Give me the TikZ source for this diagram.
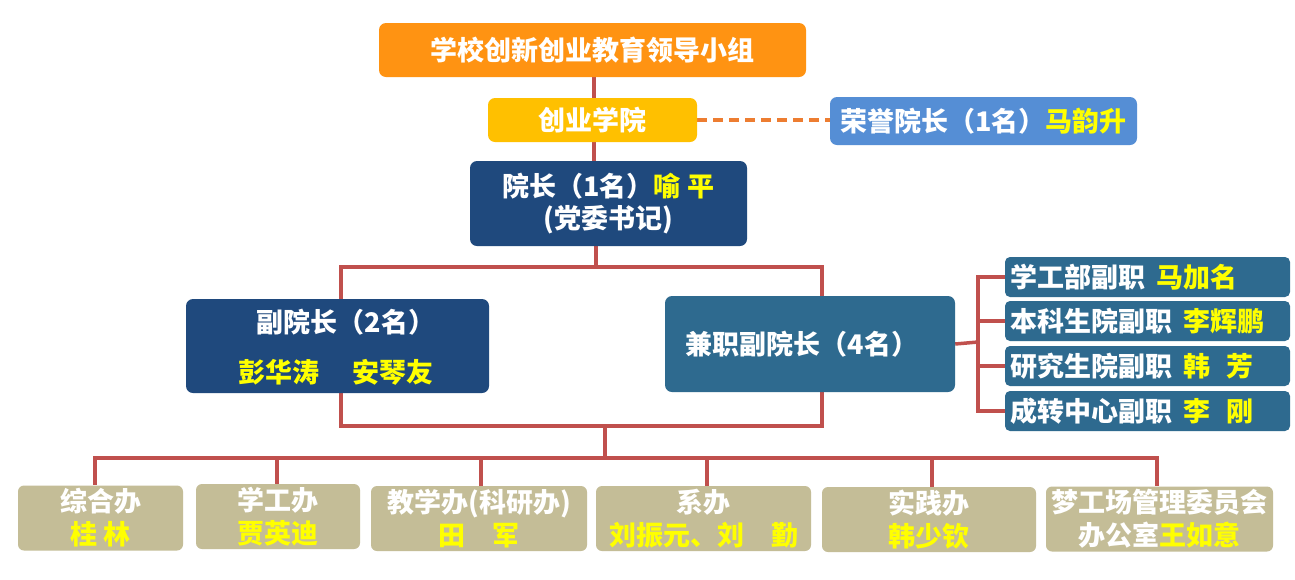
\documentclass[tikz,border=0pt]{standalone}
\usepackage{fontspec}
\setmainfont{Noto Sans CJK SC}
\usetikzlibrary{backgrounds}
\definecolor{cOrange}{HTML}{FF9312}
\definecolor{cGold}{HTML}{FFC000}
\definecolor{cLight}{HTML}{558ED5}
\definecolor{cDark}{HTML}{1F497D}
\definecolor{cSteel}{HTML}{2E6A8F}
\definecolor{cTan}{HTML}{C4BD97}
\definecolor{cLine}{HTML}{C0504D}
\definecolor{cDash}{HTML}{ED7D31}
\definecolor{cYel}{HTML}{FFFF00}
\newcommand{\yl}[1]{\textcolor{cYel}{#1}}
\tikzset{
  box/.style={rectangle, rounded corners=7pt, draw=none, text=white, inner sep=0pt,
    font=\fontsize{27}{32}\selectfont\bfseries, align=center},
  link/.style={draw=cLine, line width=3.5pt},
  dashlink/.style={draw=cDash, line width=3.5pt, dash pattern=on 10pt off 6pt},
}
\begin{document}
\begin{tikzpicture}[x=1pt,y=-1pt]
\useasboundingbox (0,0) rectangle (1295,579);
% top
\node[box, fill=cOrange, minimum width=427pt, minimum height=54pt] (top) at (592.5,50) {学校创新创业教育领导小组};
\node[box, fill=cGold, minimum width=209pt, minimum height=44pt] (college) at (592.5,120) {创业学院};
\node[box, fill=cLight, minimum width=307pt, minimum height=48pt] (hon) at (983.5,121) {荣誉院长（1名）\yl{马韵升}};
\node[box, fill=cDark, minimum width=277pt, minimum height=85pt] (dean) at (608.5,203.5) {院长（1名）\yl{喻\hspace{0.25em}平}\\(党委书记)};
\node[box, fill=cDark, minimum width=303pt, minimum height=94pt] (vp) at (337.5,346) {};
\node[font=\fontsize{27}{32}\selectfont\bfseries, text=white, inner sep=0pt] (vpa) at (346,322) {副院长（2名）};
\node[font=\fontsize{27}{32}\selectfont\bfseries, text=cYel, inner sep=0pt] (vpb) at (336,372) {彭华涛\hspace{1.2em}安琴友};
\node[box, fill=cSteel, minimum width=290pt, minimum height=96pt] (pvp) at (810,344) {\hspace{-16pt}兼职副院长（4名）};
% right boxes
\foreach \n/\y/\t in {r1/277/{学工部副职\hspace{0.4em}\yl{马加名}},
                      r2/321/{本科生院副职\hspace{0.4em}\yl{李辉鹏}},
                      r3/366/{研究生院副职\hspace{0.4em}\yl{韩\hspace{0.6em}芳}},
                      r4/411/{成转中心副职\hspace{0.4em}\yl{李\hspace{0.6em}刚}}}{
  \node[box, fill=cSteel, minimum width=285pt, minimum height=40pt, rounded corners=5pt,
        text width=274pt, align=left] (\n) at (1147.5,\y) {\hspace{0pt}\t};
}
% bottom boxes
\tikzset{bot/.style={box, fill=cTan, minimum height=65pt, rounded corners=6pt, font=\fontsize{27}{33}\selectfont\bfseries}}
\node[bot, minimum width=165pt] (o1) at (100.5,518) {综合办\\\yl{桂\hspace{0.25em}林}};
\node[bot, minimum width=164pt] (o2) at (278,516.5) {学工办\\\yl{贾英迪}};
\node[bot, minimum width=216pt] (o3) at (479,518.5) {教学办(科研办)\\\yl{田\hspace{1em}军}};
\node[bot, minimum width=215pt] (o4) at (703.5,518.5) {系办\\\yl{刘振元、刘\hspace{1em}勤}};
\node[bot, minimum width=214pt] (o5) at (929,519.5) {实践办\\\yl{韩少钦}};
\node[bot, minimum width=227pt] (o6) at (1159.5,519) {梦工场管理委员会\\办公室\yl{王如意}};
% connectors
\coordinate (xa) at (594,0);
\coordinate (b1) at (596,267);
\coordinate (xl) at (341,0);
\coordinate (xr) at (822,0);
\coordinate (b2) at (605,426);
\coordinate (b3) at (605,458);
\coordinate (bx) at (978,342);
\begin{scope}[on background layer]
\fill[white] (0,0) rectangle (1295,579);
\draw[link] (top.south -| xa) -- (dean.north -| xa);
\draw[link] (dean.south -| b1) -- (b1);
\draw[link] (vp.north -| xl) |- (b1) -| (pvp.north -| xr);
\draw[link] (vp.south -| xl) |- (b2);
\draw[link] (pvp.south -| xr) |- (b2);
\draw[link] (b2) -- (b3);
\foreach \o/\xx in {o1/95,o2/277,o3/481,o4/707,o5/932,o6/1157}{
  \draw[link] (b3) -| (\xx,0 |- \o.north);
}
\draw[link] (pvp.east) -- (bx);
\foreach \r in {r1,r2,r3,r4}{
  \draw[link] (\r.west) -| (bx);
}
\draw[dashlink] (college.east) -- (college.east -| hon.west);
\end{scope}
\end{tikzpicture}
\end{document}
